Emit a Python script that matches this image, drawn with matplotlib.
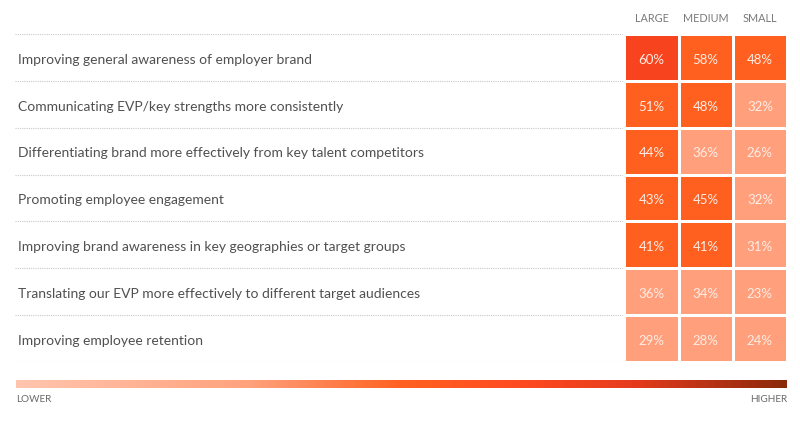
import numpy as np
import matplotlib
matplotlib.use("Agg")
import matplotlib.pyplot as plt
from matplotlib.colors import ListedColormap, BoundaryNorm, LinearSegmentedColormap

categories = [
    "Improving general awareness of employer brand",
    "Communicating EVP/key strengths more consistently",
    "Differentiating brand more effectively from key talent competitors",
    "Promoting employee engagement",
    "Improving brand awareness in key geographies or target groups",
    "Translating our EVP more effectively to different target audiences",
    "Improving employee retention",
]
columns = ["LARGE", "MEDIUM", "SMALL"]
large = [60, 51, 44, 43, 41, 36, 29]
medium = [58, 48, 36, 45, 41, 34, 28]
small = [48, 32, 26, 32, 31, 23, 24]
legend_low, legend_high = "LOWER", "HIGHER"

plt.rcParams['font.family'] = ['Lato', 'DejaVu Sans']

W, H = 800, 432
fig = plt.figure(figsize=(W / 100, H / 100), dpi=100)
fig.patch.set_facecolor("white")

values = np.array([large, medium, small]).T
nrows, ncols = values.shape

left, right, top, bottom = 15, 787, 34, 362
ax = fig.add_axes([left / W, 1 - bottom / H, (right - left) / W, (bottom - top) / H])
ax.set_xlim(0, right - left)
ax.set_ylim(nrows, 0)
ax.axis("off")

# dotted separators
ax.hlines(np.arange(nrows + 1), 0, right - left, colors="#c8c8c8",
          linestyles=(0, (1, 1)), linewidth=0.8, zorder=1)

cell_w = 54.2
x0 = (right - left) - ncols * cell_w
x_edges = x0 + np.arange(ncols + 1) * cell_w
y_edges = np.arange(nrows + 1)

cmap = ListedColormap(["#FF9F7C", "#FF5F1F", "#F7441F"])
norm = BoundaryNorm([0, 40, 60, 101], cmap.N)
ax.pcolormesh(x_edges, y_edges, values, cmap=cmap, norm=norm,
              edgecolor="white", linewidth=1.0, zorder=2)

dy = 0.05
for i in range(nrows):
    ax.text(3, i + 0.5 + dy, categories[i], ha="left", va="center",
            fontsize=10, color="#505050", zorder=3)
    for j in range(ncols):
        ax.text((x_edges[j] + x_edges[j + 1]) / 2, i + 0.5 + dy, f"{values[i, j]}%",
                ha="center", va="center", fontsize=9.5, color="#FFEDE6", zorder=3)

for j, c in enumerate(columns):
    ax.text((x_edges[j] + x_edges[j + 1]) / 2, -0.34, c, ha="center", va="center",
            fontsize=7.8, color="#7a7a7a", clip_on=False)

# gradient legend
cax = fig.add_axes([16 / W, 1 - 388 / H, (787 - 16) / W, 8 / H])
grad_cmap = LinearSegmentedColormap.from_list("g", [
    (0.0, "#FFC5AE"), (0.3, "#FFA27D"), (0.5, "#FF6120"),
    (0.65, "#FF4B20"), (0.8, "#E63B1D"), (1.0, "#8A2A0B")])
cax.imshow(np.linspace(0, 1, 512)[None, :], aspect="auto", cmap=grad_cmap)
cax.axis("off")

fig.text(16 / W, 1 - 400 / H, legend_low, ha="left", va="center", fontsize=7.2, color="#6a6a6a")
fig.text(787 / W, 1 - 400 / H, legend_high, ha="right", va="center", fontsize=7.2, color="#6a6a6a")

fig.savefig("out.png", dpi=100, facecolor="white")
